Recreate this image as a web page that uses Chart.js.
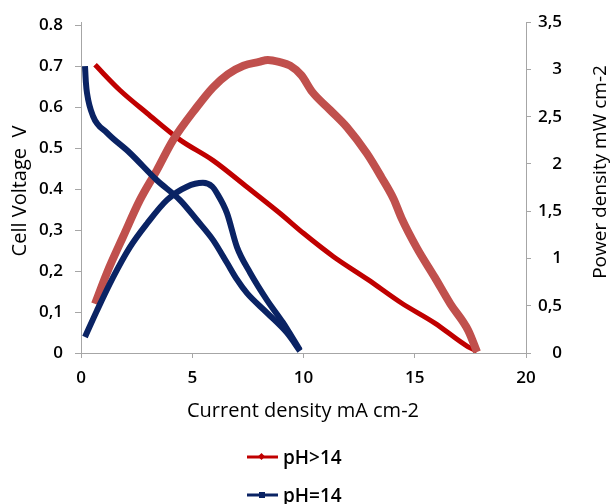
<!DOCTYPE html>
<html>
<head>
<meta charset="utf-8">
<script src="https://cdn.jsdelivr.net/npm/chart.js@4"></script>
<style>
	body { margin: 0; background: #fff; }
	#wrap { position: relative; width: 615px; height: 504px; }
	#legend { position: absolute; left: 246px; top: 438px; font-family: "Open Sans", sans-serif; font-size: 19px; font-weight: 600; color: #000; }
	.item { height: 38px; display: flex; align-items: center; }
	.item svg { margin-right: 4px; }
</style>
</head>
<body>
<div id="wrap">
	<canvas id="chartDisplay" width="615" height="504"></canvas>
	<div id="legend">
		<div class="item">
			<svg width="33" height="10"><line x1="1" y1="5" x2="32" y2="5" stroke="#C00000" stroke-width="3"/><rect x="13" y="2" width="5" height="5" fill="#C00000" transform="rotate(45 15.5 4.5)"/></svg>
			<span>pH&gt;14</span>
		</div>
		<div class="item">
			<svg width="33" height="10"><line x1="1" y1="5" x2="32" y2="5" stroke="#0A2364" stroke-width="3"/><rect x="13" y="2" width="6" height="6" fill="#0A2364"/></svg>
			<span>pH=14</span>
		</div>
	</div>
</div>
<script>
// tick labels
var currentTicks = ["0", "5", "10", "15", "20"];
var voltTicks = ["0", "0,1", "0,2", "0,3", "0.4", "0.5", "0.6", "0.7", "0.8"];
var powerTicks = ["0", "0,5", "1", "1,5", "2", "2,5", "3", "3,5"];

// pH>14 : voltage curve
var redVoltI = [0.63, 1.75, 2.97, 4.45, 5.93, 7.46, 8.94, 10.0, 11.35, 12.9, 14.4, 15.9, 17.4, 17.8];
var redVoltV = [0.703, 0.641, 0.585, 0.52, 0.47, 0.405, 0.341, 0.292, 0.235, 0.179, 0.122, 0.073, 0.015, 0.005];

// pH>14 : power curve
var redPowI = [0.63, 1.17, 1.89, 2.65, 3.4, 4.13, 5.2, 5.93, 6.6, 7.3, 8.0, 8.4, 8.9, 9.4, 9.9, 10.4, 11.2, 11.95, 12.85, 13.5, 14.05, 14.4, 15.1, 15.9, 16.6, 17.4, 17.8];
var redPowP = [0.52, 0.85, 1.23, 1.62, 1.93, 2.25, 2.6, 2.81, 2.95, 3.04, 3.08, 3.1, 3.08, 3.04, 2.94, 2.76, 2.57, 2.39, 2.11, 1.86, 1.63, 1.43, 1.11, 0.8, 0.52, 0.24, 0.01];

// pH=14 : voltage curve
var blueVoltI = [0.18, 0.22, 0.27, 0.54, 1.17, 2.2, 3.4, 4.45, 5.2, 5.93, 6.56, 7.0, 7.46, 8.36, 9.26, 9.84];
var blueVoltV = [0.70, 0.66, 0.634, 0.578, 0.537, 0.488, 0.422, 0.373, 0.325, 0.276, 0.22, 0.18, 0.146, 0.098, 0.049, 0.005];

// pH=14 : power curve
var bluePowI = [0.18, 0.72, 1.44, 2.2, 2.97, 3.87, 4.76, 5.48, 5.9, 6.11, 6.56, 7.01, 7.6, 8.36, 9.08, 9.84];
var bluePowP = [0.17, 0.45, 0.8, 1.12, 1.37, 1.62, 1.76, 1.8, 1.76, 1.69, 1.48, 1.12, 0.85, 0.56, 0.32, 0.03];

function pairs(xs, ys) {
	return xs.map((x, i) => ({ x: x, y: ys[i] }));
}

const axisColor = "#a6a6a6";
const tickFont = { family: "Open Sans", size: 17, weight: "600" };

// axis titles, drawn by hand so the right one reads bottom-to-top
function drawTitle(ctx, text, x, y, size, rotate) {
	ctx.save();
	ctx.fillStyle = "#000";
	ctx.font = size + "px 'Open Sans'";
	ctx.textAlign = "center";
	ctx.textBaseline = "middle";
	ctx.translate(x, y);
	if (rotate) ctx.rotate(-Math.PI / 2);
	ctx.fillText(text, 0, 0);
	ctx.restore();
}

const titlesPlugin = {
	id: "titles",
	afterDraw(chart) {
		const ctx = chart.ctx;
		drawTitle(ctx, "Current density mA cm-2", 303, 411, 20, false);
		drawTitle(ctx, "Cell Voltage  V", 20, 191, 20, true);
		drawTitle(ctx, "Power density mW cm-2", 601, 172, 19, true);
	}
};

new Chart(document.getElementById("chartDisplay"), {
	type: "line",
	data: {
		datasets: [{
			label: "pH>14 V",
			data: pairs(redVoltI, redVoltV),
			borderColor: "#C00000",
			borderWidth: 5,
			yAxisID: "A",
			order: 3
		},
		{
			label: "pH>14 P",
			data: pairs(redPowI, redPowP),
			borderColor: "#C0504D",
			borderWidth: 8,
			yAxisID: "B",
			order: 2
		},
		{
			label: "pH=14 V",
			data: pairs(blueVoltI, blueVoltV),
			borderColor: "#0A2364",
			borderWidth: 6,
			yAxisID: "A",
			order: 1
		},
		{
			label: "pH=14 P",
			data: pairs(bluePowI, bluePowP),
			borderColor: "#0A2364",
			borderWidth: 6,
			yAxisID: "B",
			order: 0
		}]
	},
	options: {
		responsive: false,
		animation: false,
		layout: { padding: { top: 22, left: 0, right: 53, bottom: 0 } },
		elements: {
			point: { radius: 0 },
			line: { cubicInterpolationMode: "monotone", borderCapStyle: "butt", borderJoinStyle: "round" }
		},
		plugins: {
			legend: { display: false },
			tooltip: { enabled: false }
		},
		scales: {
			x: {
				type: "linear",
				min: 0,
				max: 20,
				afterFit: s => { s.height = 151; },
				ticks: {
					stepSize: 5,
					padding: 10,
					color: "#000",
					font: tickFont,
					callback: v => currentTicks[Math.round(v / 5)]
				},
				grid: { drawOnChartArea: false, tickLength: 5, color: axisColor },
				border: { color: axisColor }
			},
			A: {
				type: "linear",
				position: "left",
				min: 0,
				max: 0.807,
				afterFit: s => { s.width = 81; },
				afterBuildTicks: s => { s.ticks = voltTicks.map((l, i) => ({ value: i / 10 })); },
				ticks: {
					padding: 12,
					color: "#000",
					font: tickFont,
					callback: v => voltTicks[Math.round(v * 10)]
				},
				grid: { drawOnChartArea: false, tickLength: 6, color: axisColor },
				border: { color: axisColor }
			},
			B: {
				type: "linear",
				position: "right",
				min: 0,
				max: 3.5,
				afterFit: s => { s.width = 36; },
				ticks: {
					stepSize: 0.5,
					padding: 6,
					crossAlign: "far",
					color: "#000",
					font: tickFont,
					callback: v => powerTicks[Math.round(v * 2)]
				},
				grid: { drawOnChartArea: false, tickLength: 5, color: axisColor },
				border: { color: axisColor }
			}
		}
	},
	plugins: [titlesPlugin]
});
</script>
</body>
</html>
